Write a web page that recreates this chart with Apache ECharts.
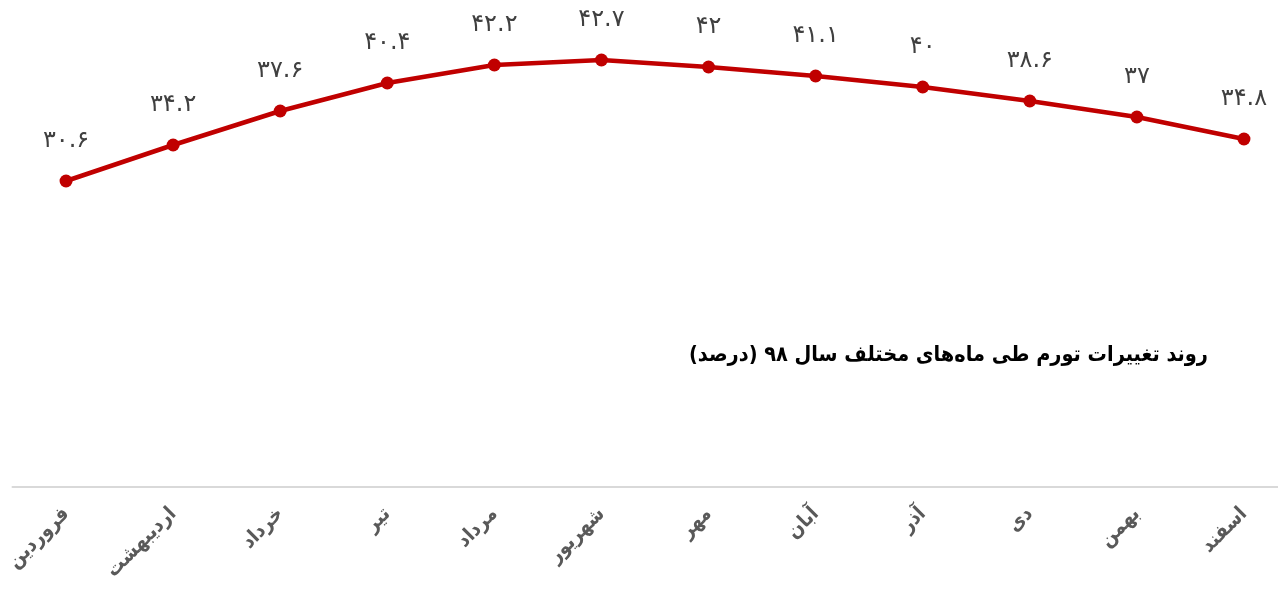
<!DOCTYPE html>
<html><head><meta charset="utf-8">
<script src="https://cdn.jsdelivr.net/npm/echarts@6/dist/echarts.min.js"></script>
<style>html,body{margin:0;padding:0;background:#fff}#c{width:1278px;height:589px}</style>
</head><body><div id="c"></div>
<script>
const months = ['فروردین','اردیبهشت','خرداد','تیر','مرداد','شهریور','مهر','آبان','آذر','دی','بهمن','اسفند'];
const inflation = [30.6, 34.2, 37.6, 40.4, 42.2, 42.7, 42, 41.1, 40, 38.6, 37, 34.8];
const valueLabels = ['۳۰.۶','۳۴.۲','۳۷.۶','۴۰.۴','۴۲.۲','۴۲.۷','۴۲','۴۱.۱','۴۰','۳۸.۶','۳۷','۳۴.۸'];
const titleText = 'روند تغییرات تورم طی ماه‌های مختلف سال ۹۸ (درصد)';

const chart = echarts.init(document.getElementById('c'), null, {renderer:'canvas'});
chart.setOption({
  animation:false,
  backgroundColor:'#fff',
  title:{
    text:titleText, right:65, top:339,
    textStyle:{fontFamily:'DejaVu Sans Condensed, DejaVu Sans', fontSize:21.5, fontWeight:'bold', color:'#000'}
  },
  grid:{left:12.5, width:1285, top:37, height:450, outerBoundsMode:'none', containLabel:false},
  xAxis:{
    type:'category', data:months, boundaryGap:true,
    axisLine:{lineStyle:{color:'#d9d9d9', width:2}},
    axisTick:{show:false},
    axisLabel:{rotate:45, interval:0, margin:24, color:'#595959', fontSize:20, fontWeight:'bold', fontFamily:'DejaVu Sans Condensed, DejaVu Sans'}
  },
  yAxis:{type:'value', min:0, max:45, show:false, splitLine:{show:false}},
  series:[{
    type:'line', data:inflation,
    lineStyle:{color:'#C00000', width:4.5},
    itemStyle:{color:'#C00000'},
    symbol:'circle', symbolSize:13,
    label:{show:true, position:'top', distance:22,
      formatter:p=>valueLabels[p.dataIndex],
      color:'#404040', fontSize:24, fontFamily:'DejaVu Sans'}
  }]
});
</script></body></html>
